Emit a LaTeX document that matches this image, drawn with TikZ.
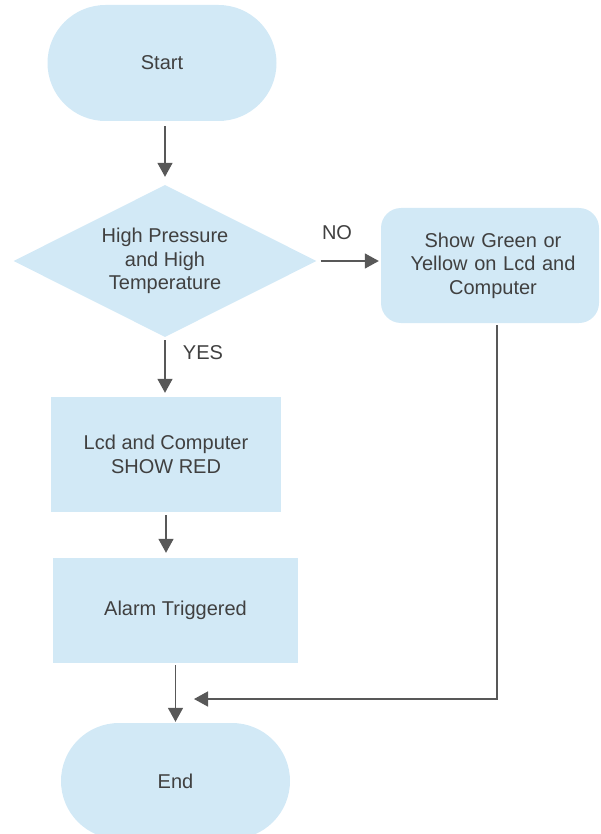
\documentclass[tikz,border=0pt]{standalone}
\usepackage{fontspec}
\setmainfont{Liberation Sans}
\usetikzlibrary{shapes.geometric,arrows.meta}
\definecolor{boxfill}{RGB}{210,233,246}
\definecolor{linecol}{RGB}{88,88,88}
\definecolor{txtcol}{RGB}{64,64,64}
\begin{document}
\begin{tikzpicture}[x=1pt,y=-1pt,
  every node/.style={font=\fontsize{20}{23.5}\selectfont, text=txtcol},
  flowbox/.style={fill=boxfill, draw=none, inner sep=0pt, align=center},
  terminal/.style={flowbox, rectangle, rounded corners=58pt, minimum width=229pt, minimum height=116pt},
  process/.style={flowbox, rectangle},
  decision/.style={flowbox, diamond, aspect=2, minimum width=303pt, minimum height=152pt},
  arr/.style={draw=linecol, line width=1.5pt, -{Triangle[width=15pt,length=14pt]}},
  lbl/.style={inner sep=0pt}
]
\useasboundingbox (0,0) rectangle (600,834);
\clip (0,0) rectangle (600,834);

\node[terminal] (start) at (162,63) {Start};
\node[decision] (dia) at (165,261) {High Pressure\\and High\\Temperature};
\node[flowbox, rectangle, rounded corners=20pt, minimum width=218pt, minimum height=115pt, text width=210pt] (show) at (490,265.5) {\hspace*{6pt}Show Green or\\\hspace*{6pt}Yellow on Lcd and\\\hspace*{6pt}Computer};
\node[process, minimum width=230pt, minimum height=115pt] (lcd) at (166,454.5) {Lcd and Computer\\SHOW RED};
\node[process, minimum width=245pt, minimum height=105pt] (alarm) at (175.5,610.5) {Alarm Triggered};
\node[terminal] (end) at (175.5,781) {End};

\coordinate (tipend) at (194,699);

\draw[arr, shorten <=5pt, shorten >=8pt] (dia.north |- start.south) -- (dia.north);
\draw[arr, shorten <=4pt, shorten >=2pt] (dia.east) -- (dia.east -| show.west);
\node[lbl] (no) at (337,233) {NO};
\draw[arr, shorten <=3pt, shorten >=4pt] (dia.south) -- (dia.south |- lcd.north);
\node[lbl] (yes) at (203,353) {YES};
\draw[arr, shorten <=3pt, shorten >=5pt] (lcd.south) -- (lcd.south |- alarm.north);
\draw[arr, shorten <=2pt, shorten >=1pt] (alarm.south) -- (end.north);
\draw[arr, shorten <=2pt] ([xshift=7pt]show.south) |- (tipend);
\end{tikzpicture}
\end{document}
